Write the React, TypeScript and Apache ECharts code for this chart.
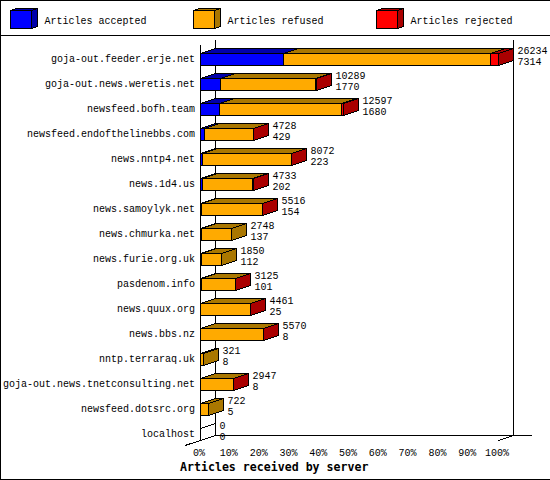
import React, { useEffect, useRef } from "react";
import * as echarts from "echarts";

const servers = [
  "goja-out.feeder.erje.net", "goja-out.news.weretis.net", "newsfeed.bofh.team",
  "newsfeed.endofthelinebbs.com", "news.nntp4.net", "news.1d4.us", "news.samoylyk.net",
  "news.chmurka.net", "news.furie.org.uk", "pasdenom.info", "news.quux.org", "news.bbs.nz",
  "nntp.terraraq.uk", "goja-out.news.tnetconsulting.net", "newsfeed.dotsrc.org", "localhost",
];
const accepted = [7314, 1770, 1680, 429, 223, 202, 154, 137, 112, 101, 25, 8, 8, 8, 5, 0];
const refused = [18220, 8369, 10817, 4269, 7789, 4431, 5342, 2611, 1738, 3019, 4431, 5557, 313, 2934, 717, 0];
const rejected = [700, 150, 100, 30, 60, 100, 20, 0, 0, 5, 5, 5, 0, 5, 0, 0];
const percentTicks = [0, 10, 20, 30, 40, 50, 60, 70, 80, 90, 100];
const legendNames = ["Articles accepted", "Articles refused", "Articles rejected"];
const axisTitle = "Articles received by server";

const FRONT = ["#0000ff", "#ffaa00", "#ff0000"];
const DARK = ["#0000aa", "#aa7700", "#aa0000"];
const MONO = "'Liberation Mono', monospace";
const BOLD = "'DejaVu Sans Mono', monospace";
const DX = 15;
const DY = -5;
const totals = servers.map((_, i) => accepted[i] + refused[i] + rejected[i]);
const maxTotal = Math.max(...totals);
const pct = (v: number) => (v / maxTotal) * 100;

const stroke = { stroke: "#000", lineWidth: 1 };
const snap = (v: number) => Math.floor(v + 0.001) + 0.5;

function renderRow(_params: any, api: any) {
  const i = api.value(1) as number;
  const cy = Math.round(api.coord([0, i])[1]);
  const top = cy - 6 + 0.5;
  const bottom = cy + 6 + 0.5;
  const segs = [accepted[i], refused[i], rejected[i]];
  const children: any[] = [];
  const endX = snap(api.coord([pct(totals[i]), i])[0]);
  let cum = 0;
  let last = 1;
  segs.forEach((v, k) => {
    const x0 = snap(api.coord([pct(cum), i])[0]);
    cum += v;
    const x1 = snap(api.coord([pct(cum), i])[0]);
    if (v <= 0) return;
    last = k;
    children.push({
      type: "polygon",
      shape: { points: [[x0, top], [x0 + DX, top + DY], [x1 + DX, top + DY], [x1, top]] },
      style: { fill: DARK[k], ...stroke },
    });
    children.push({
      type: "rect",
      shape: { x: x0, y: top, width: x1 - x0, height: bottom - top },
      style: { fill: FRONT[k], ...stroke },
    });
  });
  children.push({
    type: "polygon",
    shape: { points: [[endX, top], [endX + DX, top + DY], [endX + DX, bottom + DY], [endX, bottom]] },
    style: { fill: totals[i] > 0 ? DARK[last] : "none", ...stroke },
  });
  [totals[i], accepted[i]].forEach((v, k) => {
    children.push({
      type: "text",
      style: {
        text: String(v), x: endX + DX + 4, y: cy + (k === 0 ? -8 : 3),
        fill: "#000", fontFamily: MONO, fontSize: 10, align: "left", verticalAlign: "middle",
      },
    });
  });
  return { type: "group", children };
}

function legendItem(x: number, k: number) {
  const w = 21, h = 18, y = 10.5, dx = 6, dy = -2;
  return [
    { type: "polygon", shape: { points: [[x, y], [x + dx, y + dy], [x + w + dx, y + dy], [x + w, y]] }, style: { fill: DARK[k], ...stroke } },
    { type: "polygon", shape: { points: [[x + w, y], [x + w + dx, y + dy], [x + w + dx, y + h + dy], [x + w, y + h]] }, style: { fill: DARK[k], ...stroke } },
    { type: "rect", shape: { x, y, width: w, height: h }, style: { fill: FRONT[k], ...stroke } },
    { type: "text", x: x + 34, y: 21, style: { text: legendNames[k], fill: "#000", fontFamily: MONO, fontSize: 10, verticalAlign: "middle" } },
  ];
}

const line = (x1: number, y1: number, x2: number, y2: number) => ({
  type: "line", shape: { x1, y1, x2, y2 }, style: { ...stroke },
});

export default function App() {
  const ref = useRef<HTMLDivElement>(null);
  useEffect(() => {
    document.body.style.margin = "0";
    const chart = echarts.init(ref.current!, undefined, { renderer: "svg" });
    chart.setOption({
      animation: false,
      backgroundColor: "#fff",
      grid: { left: 200, right: 52, top: 46.5, height: 400 },
      xAxis: {
        type: "value", min: 0, max: 100, interval: 10,
        splitLine: { show: false }, axisLine: { show: false }, axisTick: { show: false },
        axisLabel: {
          margin: 2, fontFamily: MONO, fontSize: 10, color: "#000", padding: [0, 2, 0, 0],
          formatter: (v: number) => (percentTicks.includes(v) ? `${v}%` : ""),
        },
      },
      yAxis: {
        type: "category", inverse: true, data: servers,
        axisLine: { show: false }, axisTick: { show: false }, splitLine: { show: false },
        axisLabel: { margin: 5, fontFamily: MONO, fontSize: 10, color: "#000", interval: 0, padding: [4, 0, 0, 0] },
      },
      series: [{
        type: "custom", clip: false, silent: true,
        encode: { x: 0, y: 1 },
        data: servers.map((_, i) => [pct(totals[i]), i]),
        renderItem: renderRow,
      }],
      graphic: [
        { type: "rect", shape: { x: 0.5, y: 0.5, width: 560, height: 479 }, style: { fill: "none", ...stroke } },
        line(0, 35.5, 550, 35.5),
        line(200.5, 45, 200.5, 440),
        line(215.5, 40, 215.5, 435.5),
        line(513.5, 40, 513.5, 435.5),
        line(215.5, 435.5, 532, 435.5),
        line(185, 445.5, 215.5, 435.5),
        line(498.5, 440.5, 513.5, 435.5),
        ...legendItem(10.5, 0),
        ...legendItem(193.5, 1),
        ...legendItem(376.5, 2),
        {
          type: "text", x: 180, y: 467,
          style: { text: axisTitle, fill: "#000", fontFamily: BOLD, fontSize: 11.6, fontWeight: "bold", verticalAlign: "middle" },
        },
      ],
    });
    return () => chart.dispose();
  }, []);
  return (
    <>
      <style>{"svg line, svg path, svg rect, svg polygon { shape-rendering: crispEdges; }"}</style>
      <div ref={ref} style={{ width: 550, height: 480 }} />
    </>
  );
}
